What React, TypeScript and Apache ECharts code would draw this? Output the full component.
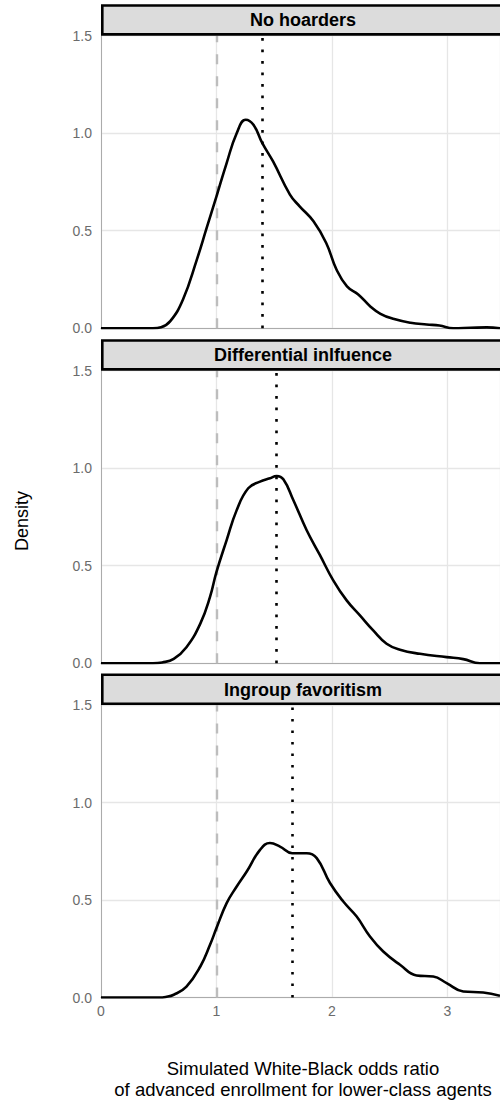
import React, { useEffect, useRef } from "react";
import * as echarts from "echarts";

const panelTitles = ["No hoarders", "Differential inlfuence", "Ingroup favoritism"];
const medians = [1.4, 1.52, 1.656];
const nullRatio = 1;
const yTicks = [0, 0.5, 1.0, 1.5];
const xTicks = [0, 1, 2, 3];

const noHoarders = [
  [0, 0], [0.45, 0], [0.52, 0.005], [0.6, 0.036], [0.71, 0.147], [0.83, 0.352], [0.915, 0.514],
  [1.0, 0.676], [1.088, 0.847], [1.175, 1.0], [1.253, 1.069], [1.32, 1.043], [1.397, 0.949],
  [1.49, 0.855], [1.636, 0.685], [1.72, 0.625], [1.84, 0.548], [1.95, 0.437], [2.04, 0.3],
  [2.13, 0.215], [2.23, 0.172], [2.33, 0.113], [2.42, 0.074], [2.53, 0.048], [2.68, 0.028],
  [2.82, 0.019], [2.93, 0.014], [3.05, 0.0], [3.2, 0.002], [3.34, 0.004], [3.455, 0.0],
];

const differentialInfluence = [
  [0, 0], [0.45, 0], [0.53, 0.004], [0.63, 0.022], [0.74, 0.082], [0.86, 0.203], [0.944, 0.34],
  [1.0, 0.468], [1.088, 0.631], [1.175, 0.785], [1.275, 0.897], [1.377, 0.931], [1.463, 0.948],
  [1.521, 0.96], [1.579, 0.943], [1.665, 0.837], [1.781, 0.682], [1.896, 0.554], [2.011, 0.425],
  [2.127, 0.322], [2.242, 0.245], [2.357, 0.168], [2.473, 0.1], [2.589, 0.069], [2.762, 0.048],
  [2.993, 0.031], [3.137, 0.021], [3.28, 0.0], [3.455, 0],
];

const ingroupFavoritism = [
  [0, 0], [0.5, 0], [0.56, 0.003], [0.63, 0.014], [0.74, 0.056], [0.86, 0.159], [0.944, 0.27],
  [1.0, 0.356], [1.088, 0.484], [1.175, 0.569], [1.262, 0.646], [1.377, 0.757], [1.463, 0.792],
  [1.55, 0.774], [1.656, 0.74], [1.781, 0.74], [1.868, 0.715], [1.983, 0.587], [2.098, 0.492],
  [2.214, 0.415], [2.329, 0.313], [2.444, 0.236], [2.589, 0.168], [2.733, 0.113], [2.877, 0.108],
  [2.993, 0.074], [3.137, 0.031], [3.31, 0.026], [3.455, 0.009],
];

const densities = [noHoarders, differentialInfluence, ingroupFavoritism];

const FONT = "'Liberation Sans', Arial, Helvetica, sans-serif";

export default function App() {
  const ref = useRef<HTMLDivElement>(null);

  useEffect(() => {
    if (!ref.current) return;
    const chart = echarts.init(ref.current, undefined, { renderer: "svg" });

    const plotLeft = 101;
    const plotWidth = 399;
    const panelTops = [35.7, 370.7, 705];
    const panelHeight = 292.5;
    const stripH = 31.5;

    const grids = panelTops.map((t) => ({
      left: plotLeft,
      top: t,
      width: plotWidth,
      height: panelHeight,
      containLabel: false,
    }));

    const xAxes = panelTops.map((_, i) => ({
      type: "value",
      gridIndex: i,
      min: 0,
      max: 3.455,
      interval: 1,
      axisLine: { show: true, lineStyle: { color: "#ababab", width: 1 } },
      axisTick: { show: false },
      axisLabel: {
        show: i === 2,
        color: "#6b6b6b",
        fontSize: 14,
        fontFamily: FONT,
        margin: 6,
        showMaxLabel: false,
        formatter: (v: number) => (xTicks.includes(v) ? String(v) : ""),
      },
      splitLine: { show: true, lineStyle: { color: "#e6e6e6", width: 1.3 } },
    }));

    const yAxes = panelTops.map((_, i) => ({
      type: "value",
      gridIndex: i,
      min: 0,
      max: 1.5,
      interval: 0.5,
      axisLine: { show: true, onZero: false, lineStyle: { color: "#ababab", width: 1 } },
      axisTick: { show: false },
      axisLabel: {
        color: "#6b6b6b",
        fontSize: 14,
        fontFamily: FONT,
        margin: 9,
        formatter: (v: number) => (yTicks.includes(v) ? v.toFixed(1) : ""),
      },
      splitLine: { show: true, lineStyle: { color: "#e6e6e6", width: 1.3 } },
    }));

    const series = densities.map((d, i) => ({
      type: "line",
      xAxisIndex: i,
      yAxisIndex: i,
      data: d,
      smooth: 0.45,
      symbol: "none",
      lineStyle: { color: "#000", width: 2.6 },
      z: 5,
      markLine: {
        silent: true,
        symbol: ["none", "none"],
        label: { show: false },
        data: [
          {
            xAxis: nullRatio,
            lineStyle: { color: "#bdbdbd", width: 2.4, type: [10, 12], cap: "butt" },
          },
          {
            xAxis: medians[i],
            lineStyle: { color: "#000", width: 2.6, type: [2.6, 8.9], cap: "butt" },
          },
        ],
      },
    }));

    const graphics: any[] = [];
    panelTops.forEach((t, i) => {
      const y0 = t - stripH;
      graphics.push({
        type: "rect",
        shape: { x: plotLeft + 1.3, y: y0 + 1.3, width: 410, height: stripH - 2.6 },
        style: { fill: "#dcdcdc", stroke: "#000", lineWidth: 2.6 },
        z: 10,
      });
      graphics.push({
        type: "text",
        x: 303,
        y: y0 + stripH / 2 + 0.5,
        style: {
          text: panelTitles[i],
          font: `bold 18px ${FONT}`,
          fill: "#000",
          align: "center",
          verticalAlign: "middle",
        },
        z: 11,
      });
    });

    graphics.push({
      type: "text",
      x: 22,
      y: 521,
      rotation: Math.PI / 2,
      style: {
        text: "Density",
        font: `18px ${FONT}`,
        fill: "#000",
        align: "center",
        verticalAlign: "middle",
      },
      z: 11,
    });
    graphics.push({
      type: "text",
      x: 303,
      y: 1079,
      style: {
        text: "Simulated White-Black odds ratio\nof advanced enrollment for lower-class agents",
        font: `18.5px ${FONT}`,
        lineHeight: 21,
        fill: "#000",
        align: "center",
        verticalAlign: "middle",
      },
      z: 11,
    });

    chart.setOption({
      animation: false,
      backgroundColor: "#fff",
      grid: grids,
      xAxis: xAxes,
      yAxis: yAxes,
      series,
      graphic: { elements: graphics },
    });

    return () => chart.dispose();
  }, []);

  return (
    <div
      ref={ref}
      style={{ position: "fixed", left: 0, top: 0, width: 500, height: 1102 }}
    />
  );
}
